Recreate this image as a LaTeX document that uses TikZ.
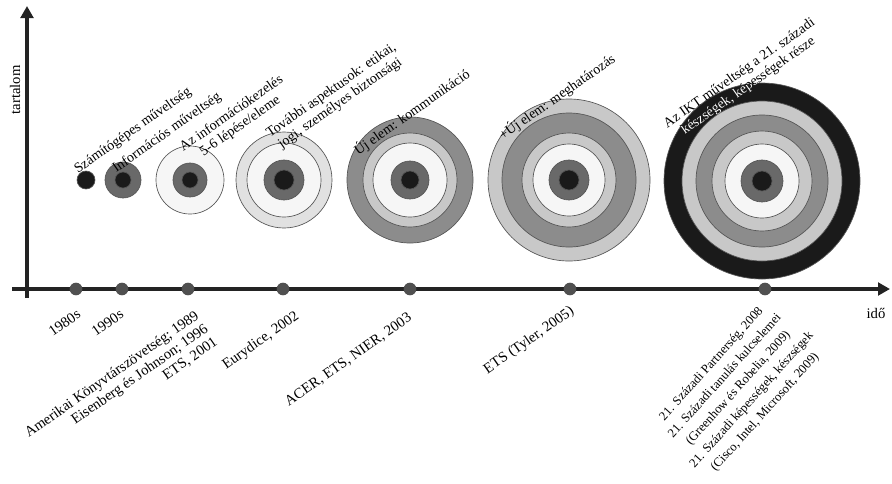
\documentclass[tikz,border=0pt]{standalone}
\usepackage{fontspec}
\setmainfont{Liberation Serif}
\usetikzlibrary{arrows.meta}

\tikzset{every picture/.style={line width=0.75pt}}
\tikzset{
	ring/.style={draw={rgb, 255:red, 85; green, 85; blue, 85 }, line width=0.5pt},
	blackfill/.style={fill={rgb, 255:red, 26; green, 26; blue, 26 }},
	darkfill/.style={fill={rgb, 255:red, 105; green, 105; blue, 105 }},
	midfill/.style={fill={rgb, 255:red, 140; green, 140; blue, 140 }},
	lightfill/.style={fill={rgb, 255:red, 200; green, 200; blue, 200 }},
	palefill/.style={fill={rgb, 255:red, 225; green, 225; blue, 225 }},
	whitefill/.style={fill={rgb, 255:red, 246; green, 246; blue, 246 }},
	axisline/.style={draw={rgb, 255:red, 35; green, 35; blue, 35 }, line width=3pt},
	axisdot/.style={circle, fill={rgb, 255:red, 80; green, 80; blue, 80 }, inner sep=0pt, minimum size=9.5pt},
	toplbl/.style={rotate=35, inner sep=0pt, align=center, font=\fontsize{10.5}{11.5}\selectfont},
	botlbl/.style={rotate=35, anchor=north east, inner sep=0pt, font=\fontsize{11}{12}\selectfont}
}

\begin{document}
\begin{tikzpicture}[x=0.75pt,y=0.75pt,yscale=-1,xscale=1]
	\path [use as bounding box] (0,0) rectangle (892,483);

	%Axes
	\coordinate (ybot) at (27,298);
	\coordinate (ytop) at (27,6);
	\coordinate (xleft) at (12,289);
	\coordinate (xright) at (890,289);
	\draw [axisline, -{Triangle[length=9pt,width=9.5pt]}] (ybot) -- (ytop);
	\draw [axisline, -{Triangle[length=9pt,width=9.5pt]}] (xleft) -- (xright);

	%Dots on time axis
	\node [axisdot] (d1) at (76,289) {};
	\node [axisdot] (d2) at (122,289) {};
	\node [axisdot] (d3) at (188,289) {};
	\node [axisdot] (d4) at (283,289) {};
	\node [axisdot] (d5) at (410,289) {};
	\node [axisdot] (d6) at (570,289) {};
	\node [axisdot] (d7) at (765,289) {};

	%Shape: Target 1
	\coordinate (t1) at (86,180);
	\draw [ring, blackfill] (t1) circle (9);
	%Shape: Target 2
	\coordinate (t2) at (123,180);
	\draw [ring, darkfill] (t2) circle (18);
	\draw [ring, blackfill] (t2) circle (8);
	%Shape: Target 3
	\coordinate (t3) at (190,180);
	\draw [ring, whitefill] (t3) circle (34);
	\draw [ring, darkfill] (t3) circle (17);
	\draw [ring, blackfill] (t3) circle (8);
	%Shape: Target 4
	\coordinate (t4) at (284,180);
	\draw [ring, palefill] (t4) circle (48);
	\draw [ring, whitefill] (t4) circle (37);
	\draw [ring, darkfill] (t4) circle (20);
	\draw [ring, blackfill] (t4) circle (10);
	%Shape: Target 5
	\coordinate (t5) at (410,180);
	\draw [ring, midfill] (t5) circle (63);
	\draw [ring, lightfill] (t5) circle (47);
	\draw [ring, whitefill] (t5) circle (37);
	\draw [ring, darkfill] (t5) circle (19);
	\draw [ring, blackfill] (t5) circle (9);
	%Shape: Target 6
	\coordinate (t6) at (569,180);
	\draw [ring, lightfill] (t6) circle (81);
	\draw [ring, midfill] (t6) circle (67);
	\draw [ring, lightfill] (t6) circle (47);
	\draw [ring, whitefill] (t6) circle (36);
	\draw [ring, darkfill] (t6) circle (20);
	\draw [ring, blackfill] (t6) circle (10);
	%Shape: Target 7
	\coordinate (t7) at (762,181);
	\draw [ring, blackfill] (t7) circle (98);
	\draw [ring, lightfill] (t7) circle (80);
	\draw [ring, midfill] (t7) circle (66);
	\draw [ring, lightfill] (t7) circle (50);
	\draw [ring, whitefill] (t7) circle (37);
	\draw [ring, darkfill] (t7) circle (21);
	\draw [ring, blackfill] (t7) circle (10);

	% Text Node
	\node [rotate=90, font=\fontsize{11}{12}\selectfont] (ylab) at (15,90) {tartalom};
	% Text Node
	\node [font=\fontsize{11}{12}\selectfont] (xlab) at (876,313) {idő};

	% Text Node
	\node [toplbl] (l1) at (133,131) {Számítógépes műveltség};
	% Text Node
	\node [toplbl] (l2) at (167,133) {Információs műveltség};
	% Text Node
	\node [toplbl] (l3) at (236,120) {Az információkezelés\\5-6 lépése/eleme};
	% Text Node
	\node [toplbl] (l4) at (336,97) {További aspektusok: etikai,\\jogi, személyes biztonsági};
	% Text Node
	\node [toplbl] (l5) at (412,112) {Új elem: kommunikáció};
	% Text Node
	\node [toplbl] (l6) at (557,97) {+Új elem: meghatározás};
	% Text Node (light where it lies on the black ring)
	\node [toplbl] (l7) at (744,80) {Az IKT műveltség a 21. századi\\készségek, képességek része};
	\begin{scope}
		\clip (t7) circle (98);
		\node [toplbl, text=white] (l7w) at (l7.center) {Az IKT műveltség a 21. századi\\készségek, képességek része};
	\end{scope}

	% Text Node
	\node [botlbl] (b1) at (76,308) {1980s};
	% Text Node
	\node [botlbl] (b2) at (119,308) {1990s};
	% Text Node
	\node [botlbl, align=right] (b3) at (194,309) {Amerikai Könyvtárszövetség; 1989\\Eisenberg és Johnson; 1996\\ETS, 2001};
	% Text Node
	\node [botlbl] (b4) at (294,309) {Eurydice, 2002};
	% Text Node
	\node [botlbl] (b5) at (407,311) {ACER, ETS, NIER, 2003};
	% Text Node
	\node [botlbl] (b6) at (569,304) {ETS (Tyler, 2005)};
	% Text Node
	\node [botlbl, rotate=13, anchor=north, align=center, font=\fontsize{9.5}{13.5}\selectfont] (b7) at (707,360) {21. Századi Partnerség, 2008\\21. Századi tanulás kulcselemei\\(Greenhow és Robelia, 2009)\\21. Századi képességek, készségek\\(Cisco, Intel, Microsoft, 2009)};

\end{tikzpicture}
\end{document}
